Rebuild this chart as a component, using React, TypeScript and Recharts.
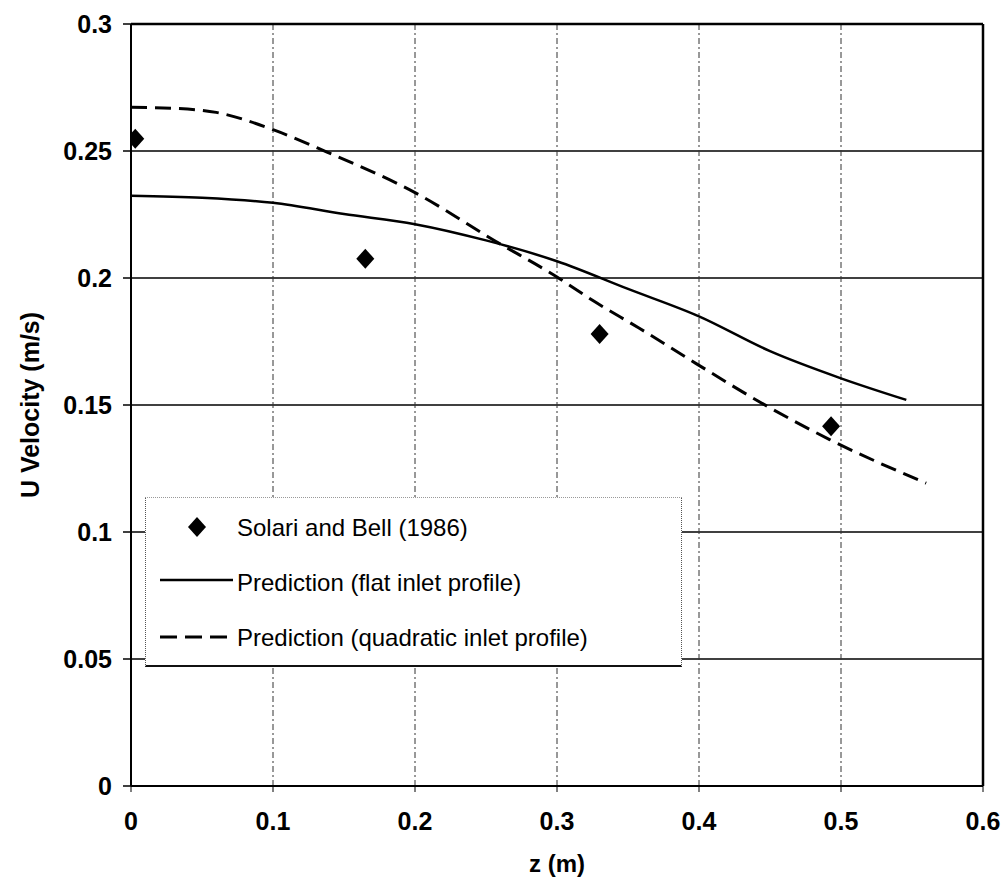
import { CartesianGrid, ComposedChart, Line, ReferenceLine, Scatter, XAxis, YAxis } from 'recharts';

const xTicks = [0, 0.1, 0.2, 0.3, 0.4, 0.5, 0.6];
const yTicks = [0, 0.05, 0.1, 0.15, 0.2, 0.25, 0.3];

// Solari and Bell (1986) measurements
const solariZ = [0.003, 0.165, 0.33, 0.493];
const solariU = [0.2548, 0.2076, 0.178, 0.1416];

// prediction, flat inlet profile
const flatZ = [0, 0.05, 0.1, 0.15, 0.2, 0.25, 0.3, 0.35, 0.4, 0.45, 0.5, 0.546];
const flatU = [0.2324, 0.2316, 0.2296, 0.2252, 0.2212, 0.2148, 0.2066, 0.1957, 0.1849, 0.1712, 0.1605, 0.152];

// prediction, quadratic inlet profile
const quadZ = [0, 0.03, 0.06, 0.1, 0.138, 0.2, 0.257, 0.3, 0.325, 0.358, 0.398, 0.449, 0.492, 0.56];
const quadU = [0.2672, 0.2668, 0.2652, 0.2584, 0.2496, 0.2336, 0.2144, 0.2004, 0.1912, 0.1802, 0.1663, 0.1492, 0.1364, 0.1192];

const legendLabels = ['Solari and Bell (1986)', 'Prediction (flat inlet profile)', 'Prediction (quadratic inlet profile)'];

const toPoints = (xs: number[], ys: number[]) => xs.map((x, i) => ({ x, y: ys[i] }));

const solari = toPoints(solariZ, solariU);
const flat = toPoints(flatZ, flatU);
const quad = toPoints(quadZ, quadU);

const font = '"Liberation Sans", Arial, sans-serif';
const tickStyle = { fill: '#000', fontSize: 25, fontWeight: 'bold', fontFamily: font };

const Diamond = (props: any) => {
  const { cx, cy } = props;
  if (cx == null || cy == null) return null;
  return <path d={`M${cx},${cy - 10}L${cx + 9},${cy}L${cx},${cy + 10}L${cx - 9},${cy}Z`} fill="#000" />;
};

const LegendBox = () => (
  <div
    style={{
      position: 'absolute',
      left: 145,
      top: 497,
      width: 537,
      height: 170,
      background: '#fff',
      borderTop: '1px dotted #999',
      borderLeft: '1px dotted #555',
      borderRight: '1px dotted #555',
      borderBottom: '2px solid #111',
      boxSizing: 'border-box',
      fontFamily: font,
      fontSize: 24,
      color: '#000',
    }}
  >
    <svg width={537} height={170} style={{ position: 'absolute', left: -1, top: -1 }}>
      <path d="M52,20L61,30L52,40L43,30Z" fill="#000" />
      <line x1={15} x2={88} y1={83} y2={83} stroke="#000" strokeWidth={2.5} />
      <line x1={15} x2={82} y1={140} y2={140} stroke="#000" strokeWidth={3} strokeDasharray="17 8" />
      {legendLabels.map((t, i) => (
        <text key={t} x={92} y={30 + i * 55} dy="0.36em" fontSize={24} fontFamily={font} fill="#000">
          {t}
        </text>
      ))}
    </svg>
  </div>
);

export default function App() {
  return (
    <div style={{ position: 'absolute', left: 0, top: 0, width: 1002, height: 885, background: '#fff' }}>
      <ComposedChart width={1002} height={885} margin={{ top: 24, right: 19, bottom: 9, left: 0 }}>
        <CartesianGrid horizontal={true} vertical={false} stroke="#000" strokeWidth={1.5} />
        <CartesianGrid horizontal={false} vertical={true} stroke="#333" strokeWidth={1} strokeDasharray="6 3 2 3" />
        <XAxis
          type="number"
          dataKey="x"
          domain={[0, 0.6]}
          ticks={xTicks}
          height={90}
          tick={tickStyle}
          tickSize={6}
          tickMargin={20}
          axisLine={{ stroke: '#000', strokeWidth: 2 }}
          tickLine={{ stroke: '#000', strokeWidth: 1 }}
          allowDataOverflow
          label={{ value: 'z (m)', position: 'insideBottom', offset: 4, style: { fontSize: 24, fontWeight: 'bold', fill: '#000', fontFamily: font } }}
        />
        <YAxis
          type="number"
          domain={[0, 0.3]}
          ticks={yTicks}
          width={131}
          tick={tickStyle}
          tickSize={8}
          tickMargin={11}
          axisLine={{ stroke: '#000', strokeWidth: 2 }}
          tickLine={{ stroke: '#000', strokeWidth: 1.5 }}
          allowDataOverflow
          label={{
            value: 'U Velocity (m/s)',
            angle: -90,
            position: 'insideLeft',
            offset: 30,
            style: { textAnchor: 'middle', fontSize: 25, fontWeight: 'bold', fill: '#000', fontFamily: font },
          }}
        />
        <ReferenceLine x={0.6} stroke="#000" strokeWidth={2.5} />
        <ReferenceLine y={0.3} stroke="#000" strokeWidth={2.5} />
        <Line data={flat} dataKey="y" type="monotone" stroke="#000" strokeWidth={2.5} dot={false} isAnimationActive={false} />
        <Line data={quad} dataKey="y" type="monotone" stroke="#000" strokeWidth={3} strokeDasharray="16 8" dot={false} isAnimationActive={false} />
        <Scatter data={solari} dataKey="y" shape={Diamond} isAnimationActive={false} />
      </ComposedChart>
      <LegendBox />
    </div>
  );
}
